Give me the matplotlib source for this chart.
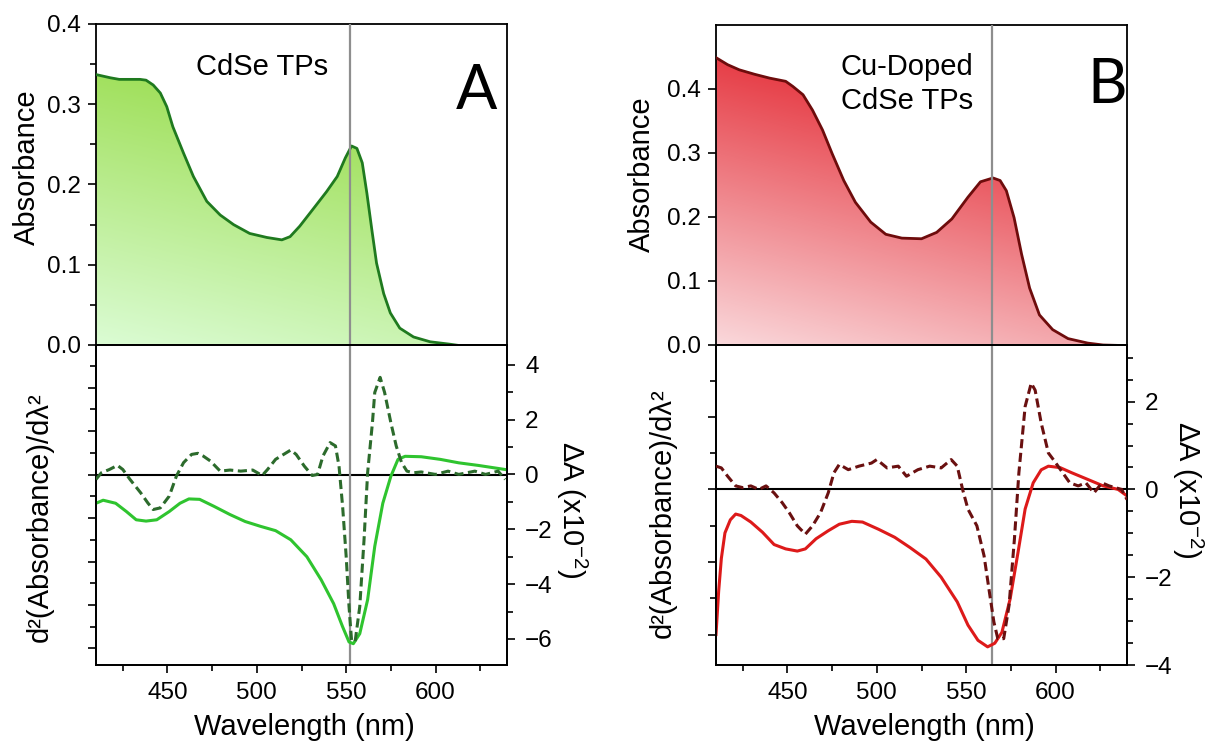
import numpy as np
import matplotlib
matplotlib.use('Agg')
import matplotlib.pyplot as plt
from matplotlib.colors import LinearSegmentedColormap
from matplotlib.patches import Polygon
from matplotlib.ticker import MultipleLocator, FixedLocator, NullFormatter

plt.rcParams['font.family'] = ['Liberation Sans', 'DejaVu Sans']
plt.rcParams['mathtext.default'] = 'regular'

# ---- panel A : CdSe TPs ----
absA_wl = [410, 418, 423, 434.6, 438, 442, 446, 449.6, 453, 459, 464.5, 472, 479.5, 487, 496,
           505.6, 514, 518.6, 524, 531.7, 539, 545, 549.5, 553, 556, 559, 561.6, 564.4, 567,
           571, 574.7, 580, 587.7, 597, 608, 617.6, 627, 640]
absA = [0.337, 0.333, 0.331, 0.331, 0.330, 0.324, 0.314, 0.297, 0.272, 0.239, 0.210, 0.179,
        0.162, 0.150, 0.139, 0.134, 0.131, 0.135, 0.148, 0.170, 0.191, 0.210, 0.233, 0.248,
        0.245, 0.227, 0.189, 0.143, 0.102, 0.064, 0.040, 0.021, 0.010, 0.004, 0.001, -0.002,
        -0.002, -0.002]

d2A_wl = [410, 414, 421, 427, 432.5, 438, 444, 451, 457, 462, 468, 476, 485, 493.5, 502, 510.5,
          519, 528, 536, 543, 548, 551.6, 554, 557.6, 562, 566, 570.5, 575, 579, 583, 592,
          602.6, 613, 624, 640]
d2A = [-0.66, -0.59, -0.66, -0.85, -1.04, -1.07, -1.04, -0.85, -0.66, -0.56, -0.57, -0.73,
       -0.92, -1.08, -1.19, -1.29, -1.50, -1.89, -2.42, -2.97, -3.50, -3.85, -3.89, -3.66,
       -2.88, -1.65, -0.66, -0.04, 0.35, 0.42, 0.41, 0.35, 0.27, 0.21, 0.11]

dA_wl = [410, 413, 417.5, 422, 425, 429, 435, 439, 442, 446, 451, 455, 459, 463.5, 467, 470,
         474, 479.5, 485, 491, 497.7, 503, 506, 510.5, 515, 519, 522, 526.6, 531, 534, 537,
         541, 544, 546, 548, 550, 551.6, 553, 555, 557.6, 560, 562, 564.7, 566, 569, 571.5,
         575, 578, 581, 584, 587.6, 592, 600, 607, 613, 622, 628, 635, 639]
dA = [-0.18, 0.06, 0.18, 0.33, 0.18, -0.18, -0.67, -1.04, -1.28, -1.22, -0.79, -0.06, 0.43,
      0.73, 0.77, 0.67, 0.49, 0.12, 0.16, 0.12, 0.16, -0.04, 0.18, 0.55, 0.73, 0.89, 0.73,
      0.30, -0.04, 0.0, 0.67, 1.16, 1.04, 0.30, -1.16, -2.99, -4.82, -6.04, -6.10, -4.82,
      -2.38, 0.06, 1.89, 2.99, 3.54, 2.99, 1.89, 1.04, 0.43, 0.12, 0.06, 0.09, 0.0, 0.12,
      0.0, 0.12, 0.0, 0.12, -0.18]

# ---- panel B : Cu-doped CdSe TPs ----
absB_wl = [410, 416.5, 423, 431.6, 440, 449, 453, 458.7, 464, 469.6, 475, 481.5, 488, 496.6,
           505, 514, 525, 533.5, 542, 551, 558, 565, 569, 572.5, 576.8, 581, 585.5, 591,
           598.4, 607, 618, 626.6, 640]
absB = [0.449, 0.438, 0.430, 0.423, 0.417, 0.412, 0.404, 0.391, 0.367, 0.336, 0.299, 0.257,
        0.223, 0.192, 0.173, 0.167, 0.166, 0.176, 0.197, 0.231, 0.255, 0.261, 0.257, 0.241,
        0.199, 0.142, 0.089, 0.047, 0.024, 0.010, 0.003, 0.0, -0.001]

d2B_wl = [410, 411.5, 413, 415, 418, 421, 424, 429.5, 436, 442.5, 449, 455.5, 460, 466, 472.8,
          479, 486, 492, 501, 510, 518.5, 527.5, 536, 545, 551, 556.6, 562, 566, 570, 574.6,
          579, 583, 587.5, 592, 596, 602.6, 609, 617.8, 626.5, 635, 640]
d2B = [-2.0, -1.4, -0.95, -0.6, -0.42, -0.34, -0.36, -0.45, -0.59, -0.76, -0.82, -0.85, -0.82,
       -0.68, -0.57, -0.48, -0.44, -0.45, -0.55, -0.66, -0.80, -0.96, -1.21, -1.55, -1.87,
       -2.08, -2.17, -2.12, -1.97, -1.51, -0.87, -0.27, 0.09, 0.27, 0.32, 0.30, 0.23, 0.14,
       0.05, 0.0, -0.09]

dB_wl = [410, 413, 416.5, 421, 425, 429.5, 434, 438, 442.5, 447, 451, 455.5, 460, 464, 468.5,
         472.8, 476, 479, 484, 490, 497, 500, 505.7, 512, 516.6, 523, 529.6, 536, 541.6, 545,
         548, 551, 556, 560, 563, 565.5, 567.7, 571, 574, 577, 579.5, 583, 586.4, 588.6, 592,
         596, 599.5, 604, 608, 612.7, 617, 621.5, 626, 630, 637, 640]
dB = [0.53, 0.49, 0.30, 0.08, 0.04, 0.08, 0.0, 0.08, -0.08, -0.30, -0.53, -0.83, -1.02, -0.83,
      -0.53, -0.08, 0.38, 0.57, 0.45, 0.53, 0.60, 0.68, 0.49, 0.53, 0.30, 0.45, 0.53, 0.49,
      0.68, 0.53, 0.0, -0.45, -0.83, -1.51, -2.34, -3.02, -3.40, -3.40, -2.64, -1.13, 0.38,
      1.89, 2.42, 2.26, 1.51, 0.83, 0.64, 0.38, 0.15, 0.08, 0.15, -0.08, 0.15, 0.08, 0.0,
      -0.23]

peakA = 552
peakB = 564.5
xticks = [450, 500, 550, 600]

W, H = 1206, 744
fig = plt.figure(figsize=(W / 100, H / 100), dpi=100)


def box(l, t, r, b):
    # pixel box -> figure fraction
    return [l / W, 1 - b / H, (r - l) / W, (b - t) / H]


def gradient_fill(ax, x, y, c_lo, c_hi):
    x = np.asarray(x)
    y = np.asarray(y)
    verts = np.column_stack([np.r_[x, x[::-1]], np.r_[y, np.zeros(len(y))]])
    patch = Polygon(verts, closed=True, fc='none', ec='none')
    ax.add_patch(patch)
    gx, gy = np.meshgrid(np.linspace(0, 1, 300), np.linspace(0, 1, 300))
    t = np.clip(0.3 * gx + 0.85 * gy, 0, 1)
    cmap = LinearSegmentedColormap.from_list('g', [c_lo, c_hi])
    im = ax.imshow(t, cmap=cmap, origin='lower', extent=[x[0], x[-1], 0, y.max()],
                   aspect='auto', vmin=0, vmax=1, zorder=1)
    im.set_clip_path(patch)


def style(ax):
    for s in ax.spines.values():
        s.set_linewidth(1.3)
    ax.tick_params(which='both', direction='out', width=1.2, labelsize=17.5)
    ax.tick_params(which='major', length=6)
    ax.tick_params(which='minor', length=4)


def panel(l, r, top_px, abs_wl, absv, abs_top, abs_ticks, fill_lo, fill_hi, line_c,
          d2_wl, d2, d2_lim, d2_minor, d_wl, dv, d_lim, d_major, d_minor,
          solid_c, dash_c, peak, label, letter):
    ax = fig.add_axes(box(l, top_px, r, 345))
    style(ax)
    gradient_fill(ax, abs_wl, absv, fill_lo, fill_hi)
    ax.plot(abs_wl, absv, color=line_c, lw=2, zorder=3)
    ax.axvline(peak, color='#8e8e8e', lw=1.6, zorder=4)
    ax.set_xlim(410, 640)
    ax.set_ylim(0, abs_top)
    ax.xaxis.set_major_locator(FixedLocator(xticks))
    ax.xaxis.set_minor_locator(MultipleLocator(25))
    ax.yaxis.set_major_locator(FixedLocator(abs_ticks))
    ax.set_yticklabels(['%.1f' % v for v in abs_ticks])
    ax.tick_params(axis='x', which='both', labelbottom=False)
    ax.tick_params(axis='y', pad=5)
    ax.text(label[1], label[2], label[0],
            ha='center', va='center', fontsize=21, linespacing=1.3, zorder=5)
    ax.text(letter[1], letter[2], letter[0], ha='center', va='center', fontsize=44,
            family=['Lato', 'DejaVu Sans'], zorder=5)
    if abs_top < 0.45:
        ax.yaxis.set_minor_locator(MultipleLocator(0.05))

    bx = fig.add_axes(box(l, 345, r, 665))
    style(bx)
    bx.plot(d2_wl, d2, color=solid_c, lw=2.2, zorder=3)
    bx.axhline(0, color='black', lw=1.5, zorder=2)
    bx.axvline(peak, color='#8e8e8e', lw=1.6, zorder=2)
    bx.set_xlim(410, 640)
    bx.set_ylim(*d2_lim)
    bx.xaxis.set_major_locator(FixedLocator(xticks))
    bx.xaxis.set_minor_locator(MultipleLocator(25))
    bx.yaxis.set_major_locator(MultipleLocator(1))
    bx.yaxis.set_minor_locator(MultipleLocator(d2_minor))
    bx.yaxis.set_major_formatter(NullFormatter())
    bx.tick_params(axis='x', pad=6)

    rx = bx.twinx()
    style(rx)
    rx.plot(d_wl, dv, color=dash_c, lw=2.2, ls=(0, (3, 1.5)), zorder=3)
    rx.set_ylim(*d_lim)
    rx.yaxis.set_major_locator(MultipleLocator(d_major))
    rx.yaxis.set_minor_locator(MultipleLocator(d_minor))
    rx.tick_params(axis='y', pad=7)
    rx.set_xlim(410, 640)
    return ax, bx, rx


axA, bxA, rxA = panel(96, 507, 24, absA_wl, absA, 0.4, [0.0, 0.1, 0.2, 0.3, 0.4],
                      '#dbfcd4', '#98dc4a', '#1f7a1f',
                      d2A_wl, d2A, (-4.38, 2.98), 0.5, dA_wl, dA, (-6.95, 4.72), 2, 1,
                      '#2fc42f', '#2c6b2c', peakA,
                      ('CdSe TPs', 503, 0.346), ('A', 623, 0.316))

axB, bxB, rxB = panel(716, 1127, 25, absB_wl, absB, 0.5, [0.0, 0.1, 0.2, 0.3, 0.4],
                      '#fad8db', '#e3222c', '#6e0c0c',
                      d2B_wl, d2B, (-2.42, 1.99), 0.5, dB_wl, dB, (-4.0, 3.29), 2, 0.5,
                      '#dd1a1a', '#6a1010', peakB,
                      ('Cu-Doped\nCdSe TPs', 517, 0.408), ('B', 629, 0.406))

# axis titles
fs = 21
fig.text(27 / W, 1 - 167 / H, 'Absorbance', rotation=90, ha='center', va='center', fontsize=fs)
fig.text(642 / W, 1 - 174 / H, 'Absorbance', rotation=90, ha='center', va='center', fontsize=fs)
fig.text(40 / W, 1 - 517 / H, 'd²(Absorbance)/dλ²', rotation=90, ha='center', va='center', fontsize=fs)
fig.text(663 / W, 1 - 513 / H, 'd²(Absorbance)/dλ²', rotation=90, ha='center', va='center', fontsize=fs)
fig.text(572 / W, 1 - 510 / H, r'ΔA (x10$^{-2}$)', rotation=270, ha='center', va='center', fontsize=fs)
fig.text(1188 / W, 1 - 490 / H, r'ΔA (x10$^{-2}$)', rotation=270, ha='center', va='center', fontsize=fs)
fig.text(304 / W, 1 - 727 / H, 'Wavelength (nm)', ha='center', va='center', fontsize=fs)
fig.text(924 / W, 1 - 727 / H, 'Wavelength (nm)', ha='center', va='center', fontsize=fs)

fig.savefig('out.png', dpi=100)
